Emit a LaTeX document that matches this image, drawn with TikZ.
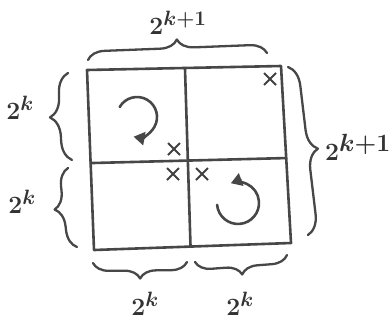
\documentclass[tikz,border=0pt]{standalone}
\usetikzlibrary{decorations.pathreplacing,arrows.meta,shapes.misc,calc}
\begin{document}
\begin{tikzpicture}[x=1pt,y=-1pt,
  ink/.style={draw=black!72, line width=2.6pt, line cap=round, line join=round},
  brc/.style={ink, line width=2.3pt, decorate, decoration={brace, amplitude=#1}},
  brc/.default=18pt,
  lbl/.style={text=black!80, font=\fontsize{29}{33}\selectfont\boldmath, inner sep=0pt},
  xmark/.style={draw=black!75, line width=2pt, cross out, minimum size=10pt, inner sep=0pt},
  turn/.style={ink, line width=2.6pt, -{Triangle[length=11pt,width=13pt]}}]
\useasboundingbox (0,0) rectangle (390,322);
% grid
\coordinate (tl) at (87,70);
\coordinate (tr) at (281,66);
\coordinate (br) at (291,243);
\coordinate (bl) at (94,250);
\coordinate (tm) at ($(tl)!0.505!(tr)$);
\coordinate (bm) at ($(bl)!0.49!(br)$);
\coordinate (lm) at ($(tl)!0.517!(bl)$);
\coordinate (rm) at ($(tr)!0.52!(br)$);
\draw[ink] (tl) -- (tr) -- (br) -- (bl) -- cycle;
\draw[ink] (tm) -- (bm);
\draw[ink] (lm) -- (rm);
% crosses
\node[xmark] (x1) at (270,79) {};
\node[xmark] (x2) at (174,149) {};
\node[xmark] (x3) at (173,174) {};
\node[xmark] (x4) at (202,174) {};
% turn arrows
\coordinate (a1) at (119.7,107);
\coordinate (a2) at (217.1,204.8);
\draw[turn] (a1) arc[start angle=150, end angle=-100, radius=20pt];
\draw[turn] (a2) arc[start angle=185, end angle=470, radius=21pt];
% braces
\coordinate (bt1) at (88,60);   \coordinate (bt2) at (267,53);
\coordinate (bl1) at (72,160);  \coordinate (bl2) at (68,73);
\coordinate (bl3) at (77,247);  \coordinate (bl4) at (68,168);
\coordinate (br1) at (288,67);  \coordinate (br2) at (308,235);
\coordinate (bb1) at (187,262); \coordinate (bb2) at (93,263);
\coordinate (bb3) at (287,255); \coordinate (bb4) at (195,262);
\draw[brc=17pt] (bt1) -- (bt2);
\draw[brc=20pt] (bl1) -- (bl2);
\draw[brc=18pt] (bl3) -- (bl4);
\draw[brc=20pt] (br1) -- (br2);
\draw[brc=16pt] (bb1) -- (bb2);
\draw[brc=16pt] (bb3) -- (bb4);
% labels
\node[lbl] (ltop) at (178,23) {$2^{k+1}$};
\node[lbl] (lleft1) at (20,108) {$2^{k}$};
\node[lbl] (lleft2) at (22,202) {$2^{k}$};
\node[lbl, font=\fontsize{33}{37}\selectfont\boldmath] (lright) at (358,147) {$2^{k+1}$};
\node[lbl] (lbot1) at (145,304) {$2^{k}$};
\node[lbl] (lbot2) at (240,304) {$2^{k}$};
\end{tikzpicture}
\end{document}
